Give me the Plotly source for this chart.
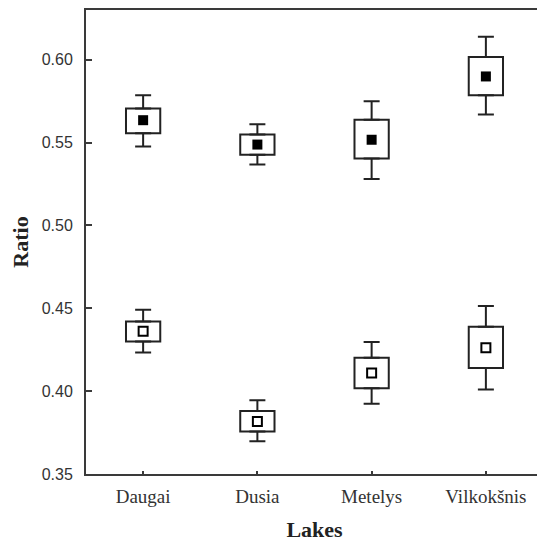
import plotly.graph_objects as go

lakes = ["Daugai", "Dusia", "Metelys", "Vilkokšnis"]

# Upper group (filled squares)
up_mean = [0.5635, 0.5488, 0.5517, 0.5899]
up_box_low = [0.5557, 0.5427, 0.5404, 0.5786]
up_box_high = [0.5706, 0.5549, 0.5637, 0.6017]
up_whisk_low = [0.5477, 0.5368, 0.5280, 0.5670]
up_whisk_high = [0.5786, 0.5610, 0.5750, 0.6139]

# Lower group (open squares)
lo_mean = [0.4361, 0.3817, 0.4109, 0.4262]
lo_box_low = [0.4300, 0.3756, 0.4018, 0.4140]
lo_box_high = [0.4421, 0.3880, 0.4201, 0.4388]
lo_whisk_low = [0.4233, 0.3697, 0.3924, 0.4010]
lo_whisk_high = [0.4491, 0.3945, 0.4296, 0.4514]

y_ticks = [0.35, 0.40, 0.45, 0.50, 0.55, 0.60]

INK = "#222222"
AX = "#3a3a3a"

fig = go.Figure()


def add_group(mean, blo, bhi, wlo, whi, filled):
    # box (mean ± SE)
    fig.add_trace(go.Bar(
        x=lakes, base=blo, y=[h - l for h, l in zip(bhi, blo)],
        width=0.3, marker=dict(color="white", line=dict(color=INK, width=2)),
        showlegend=False, hoverinfo="skip"))
    # upper whisker
    fig.add_trace(go.Scatter(
        x=lakes, y=bhi, mode="markers",
        marker=dict(color="rgba(0,0,0,0)", size=1),
        error_y=dict(type="data", symmetric=False,
                     array=[w - b for w, b in zip(whi, bhi)],
                     arrayminus=[0] * len(lakes),
                     color=INK, thickness=2, width=8),
        showlegend=False, hoverinfo="skip"))
    # lower whisker
    fig.add_trace(go.Scatter(
        x=lakes, y=blo, mode="markers",
        marker=dict(color="rgba(0,0,0,0)", size=1),
        error_y=dict(type="data", symmetric=False,
                     array=[0] * len(lakes),
                     arrayminus=[b - w for b, w in zip(blo, wlo)],
                     color=INK, thickness=2, width=8),
        showlegend=False, hoverinfo="skip"))
    # mean marker
    if filled:
        mk = dict(symbol="square", size=10, color="black", line=dict(width=0))
    else:
        mk = dict(symbol="square", size=9, color="white", line=dict(color="black", width=2))
    fig.add_trace(go.Scatter(x=lakes, y=mean, mode="markers", marker=mk,
                             showlegend=False))


add_group(up_mean, up_box_low, up_box_high, up_whisk_low, up_whisk_high, True)
add_group(lo_mean, lo_box_low, lo_box_high, lo_whisk_low, lo_whisk_high, False)

# page body has an 8px margin, so the figure is sized/offset to compensate
fig.update_layout(
    width=537, height=534,
    margin=dict(l=78, r=2, t=2, b=68),
    paper_bgcolor="white", plot_bgcolor="white",
    barmode="overlay",
    showlegend=False,
    xaxis=dict(
        type="category", range=[-0.5, 3.5], automargin=False,
        showline=True, linecolor=AX, linewidth=2, mirror=True,
        ticks="inside", ticklen=3, tickwidth=2, tickcolor=AX,
        showgrid=False, zeroline=False,
        tickfont=dict(family="Liberation Serif, Times New Roman, serif", size=19, color="#333"),
        ticklabelstandoff=4,
        title=dict(text="<b>Lakes</b>", standoff=18,
                   font=dict(family="Liberation Serif, Times New Roman, serif", size=22, color="#222")),
    ),
    yaxis=dict(
        range=[0.35, 0.63], tickvals=y_ticks, tickformat=".2f", automargin=False,
        showline=True, linecolor=AX, linewidth=2, mirror=True,
        ticks="inside", ticklen=6, tickwidth=2, tickcolor=AX,
        showgrid=False, zeroline=False,
        tickfont=dict(family="Liberation Sans, Arial, sans-serif", size=16, color="#333"),
        ticklabelstandoff=8,
        title=dict(text="<b>Ratio</b>", standoff=18,
                   font=dict(family="Liberation Serif, Times New Roman, serif", size=22, color="#222")),
    ),
)

fig.write_html("out.html")
